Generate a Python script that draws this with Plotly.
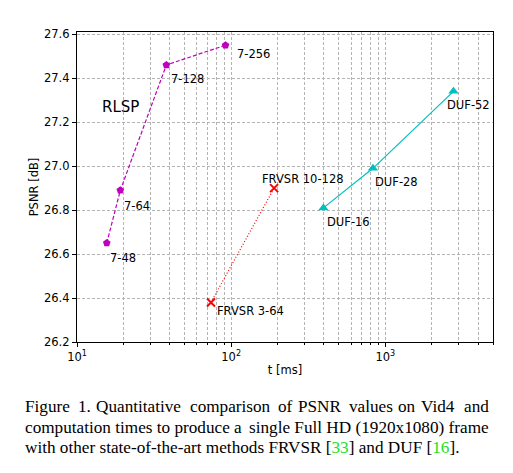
import math
import plotly.graph_objects as go

# RLSP
rlsp_t = [15.6, 19.1, 38.0, 92.0]
rlsp_psnr = [26.65, 26.89, 27.46, 27.55]
rlsp_labels = ["7-48", "7-64", "7-128", "7-256"]

# FRVSR
frvsr_t = [74.0, 190.0]
frvsr_psnr = [26.38, 26.90]
frvsr_labels = ["FRVSR 3-64", "FRVSR 10-128"]

# DUF
duf_t = [397.0, 832.0, 2770.0]
duf_psnr = [26.81, 26.99, 27.34]
duf_labels = ["DUF-16", "DUF-28", "DUF-52"]

decades = [10, 100, 1000]
decade_text = ["10<sup>1</sup>", "10<sup>2</sup>", "10<sup>3</sup>"]
y_ticks = [26.2, 26.4, 26.6, 26.8, 27.0, 27.2, 27.4, 27.6]

# caption: line 1 is justified word by word, line 2 in two halves
GREEN = "#1ee01e"
cap_line1 = ["Figure", "1.", "Quantitative", "comparison", "of", "PSNR",
             "values", "on", "Vid4"]
cap_line1_last = "and"
cap_line2 = ["computation times to produce a", "single Full HD (1920x1080) frame"]
cap_line3 = ("with other state-of-the-art methods FRVSR [<span style='color:%s'>33</span>]"
             " and DUF [<span style='color:%s'>16</span>]." % (GREEN, GREEN))

FONT = "DejaVu Sans"
MAG = "#bf00bf"
CYAN = "#00bfbf"
RED = "#ff0000"
GRID = "#b4b4b4"

fig = go.Figure()
fig.add_trace(go.Scatter(x=rlsp_t, y=rlsp_psnr, mode="lines+markers",
                         line=dict(color=MAG, width=1.2, dash="4px,2px"),
                         marker=dict(symbol="pentagon", size=8, color=MAG)))
fig.add_trace(go.Scatter(x=frvsr_t, y=frvsr_psnr, mode="lines+markers",
                         line=dict(color=RED, width=1.2, dash="1px,2px"),
                         marker=dict(symbol="x-thin", size=8, color=RED,
                                     line=dict(color=RED, width=2))))
fig.add_trace(go.Scatter(x=duf_t, y=duf_psnr, mode="lines+markers",
                         line=dict(color=CYAN, width=1.2),
                         marker=dict(symbol="triangle-up", size=9, color=CYAN)))

# label offsets (px) relative to each point
label_shift = {
    "7-48": (1.5, -6), "7-64": (2, -7), "7-128": (2.5, -5), "7-256": (9, 0),
    "FRVSR 3-64": (4, 0), "FRVSR 10-128": (-14, 18),
    "DUF-16": (1.5, -5), "DUF-28": (0.5, -5), "DUF-52": (-8, -5),
}
for xs, ys, labs in [(rlsp_t, rlsp_psnr, rlsp_labels),
                     (frvsr_t, frvsr_psnr, frvsr_labels),
                     (duf_t, duf_psnr, duf_labels)]:
    for x, y, lab in zip(xs, ys, labs):
        dx, dy = label_shift[lab]
        fig.add_annotation(x=math.log10(x), y=y, xref="x", yref="y", text=lab,
                           showarrow=False, xanchor="left", yanchor="top",
                           xshift=dx, yshift=dy,
                           font=dict(family=FONT, size=11.5, color="black"))

fig.add_annotation(x=1.149, y=27.27, xref="x", yref="y", text="RLSP", showarrow=False,
                   xanchor="left", yanchor="middle",
                   font=dict(family=FONT, size=15, color="black"))

cap_font = dict(family="Liberation Serif", size=17.2, color="black")
cap_left, cap_right = -0.129, 0.995
cap_y = [-0.2065, -0.2742, -0.3419]


def cap(text, x, y, anchor="left"):
    fig.add_annotation(x=x, y=y, xref="paper", yref="paper", text=text,
                       showarrow=False, xanchor=anchor, yanchor="middle",
                       font=cap_font)


word_x = [cap_left, -0.002, 0.042, 0.266, 0.479, 0.527, 0.649, 0.767, 0.823]
for word, x in zip(cap_line1, word_x):
    cap(word, x, cap_y[0])
cap(cap_line1_last, cap_right, cap_y[0], "right")
cap(cap_line2[0], cap_left, cap_y[1])
cap(cap_line2[1], cap_right, cap_y[1], "right")
cap(cap_line3, cap_left, cap_y[2])

grid = dict(showgrid=True, gridcolor=GRID, griddash="3px,2px", gridwidth=0.8)
fig.update_xaxes(type="log", range=[1, 3.699], tickvals=decades, ticktext=decade_text,
                 ticks="outside", ticklen=4, tickcolor="black",
                 minor=dict(dtick="D1", ticks="outside", ticklen=2, tickcolor="black",
                            showgrid=True, gridcolor=GRID, griddash="3px,2px",
                            gridwidth=0.8),
                 showline=True, linecolor="black", linewidth=1.2, mirror=True,
                 title=dict(text="t [ms]", standoff=3,
                            font=dict(family=FONT, size=11.5, color="black")),
                 tickfont=dict(family=FONT, size=11.5, color="black"),
                 zeroline=False, **grid)
fig.update_yaxes(range=[26.2, 27.61], tickvals=y_ticks, tickformat=".1f",
                 ticks="outside", ticklen=4, tickcolor="black",
                 showline=True, linecolor="black", linewidth=1.2, mirror=True,
                 title=dict(text="PSNR [dB]", standoff=2,
                            font=dict(family=FONT, size=11.5, color="black")),
                 tickfont=dict(family=FONT, size=11.5, color="black"),
                 zeroline=False, **grid)
# page has an 8px body margin, so the figure is a bit smaller than the window
fig.update_layout(width=505, height=465, showlegend=False,
                  margin=dict(l=69, r=20, t=24, b=131),
                  plot_bgcolor="white", paper_bgcolor="white",
                  font=dict(family=FONT))

fig.write_html("out.html")
